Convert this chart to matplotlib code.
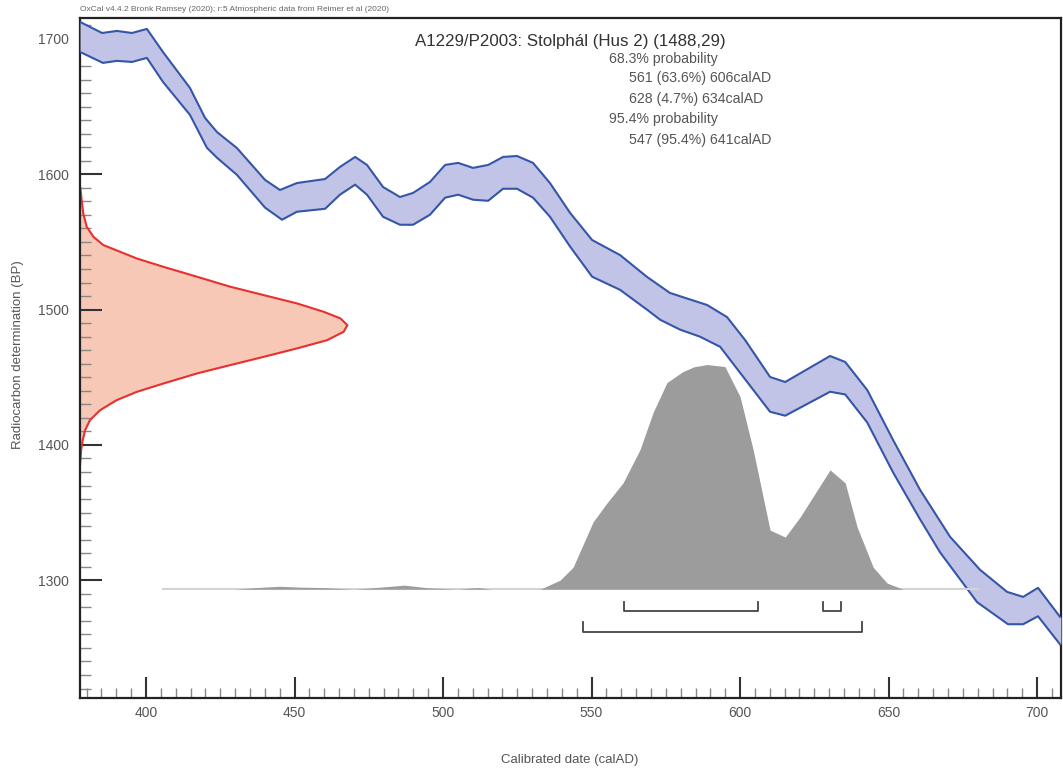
import numpy as np
import matplotlib
matplotlib.use('Agg')
import matplotlib.pyplot as plt

plt.rcParams['font.family'] = ['Liberation Sans', 'DejaVu Sans']

# calibration curve (IntCal20 band), upper and lower edges
upper_year = [377.8, 385.2, 390.2, 395.3, 400.3, 405.7, 414.8, 419.9, 423.9, 430.6,
              440.1, 445.1, 450.8, 460.3, 465.3, 470.4, 474.4, 479.8, 485.5, 489.9,
              495.6, 500.7, 505.1, 510.1, 515.2, 520.2, 524.9, 530.3, 536.0, 542.8,
              550.2, 559.6, 568.7, 576.4, 588.9, 595.6, 601.7, 610.1, 615.2, 630.3,
              635.4, 642.8, 651.5, 660.6, 670.7, 680.8, 689.9, 695.3, 700.3, 707.7]
upper_bp = [1712.6, 1704.4, 1705.9, 1704.4, 1707.4, 1690.4, 1663.8, 1641.6, 1631.2, 1619.4,
            1595.8, 1588.4, 1593.5, 1596.5, 1605.4, 1612.8, 1606.9, 1590.6, 1583.2, 1586.2,
            1594.3, 1606.9, 1608.4, 1604.7, 1606.9, 1612.8, 1613.5, 1608.4, 1593.5, 1571.4,
            1551.4, 1540.3, 1524.1, 1512.3, 1503.4, 1494.5, 1477.5, 1450.2, 1446.5, 1465.7,
            1461.3, 1440.6, 1403.7, 1366.8, 1332.1, 1307.7, 1291.4, 1287.7, 1294.4, 1273.0]
lower_year = [377.8, 385.5, 390.2, 395.3, 400.3, 405.7, 414.8, 420.5, 423.9, 430.6,
              440.1, 445.8, 450.8, 460.3, 465.3, 470.4, 474.4, 479.8, 485.5, 489.9,
              495.6, 500.7, 505.1, 510.1, 515.2, 520.2, 524.9, 530.3, 536.0, 542.8,
              550.2, 559.6, 568.7, 573.1, 579.8, 586.5, 593.3, 610.1, 615.2, 630.3,
              635.4, 642.8, 651.5, 660.6, 667.3, 679.8, 690.2, 695.3, 700.3, 707.7]
lower_bp = [1690.4, 1682.3, 1683.8, 1683.0, 1686.0, 1668.3, 1643.9, 1619.6, 1612.2, 1599.6,
            1575.3, 1566.4, 1572.3, 1574.5, 1584.9, 1592.3, 1584.9, 1568.6, 1562.7, 1562.7,
            1570.1, 1582.7, 1584.9, 1581.2, 1580.4, 1589.3, 1589.3, 1582.7, 1568.6, 1546.5,
            1524.3, 1514.6, 1499.9, 1492.5, 1485.2, 1480.0, 1472.5, 1424.5, 1421.6, 1439.3,
            1437.3, 1416.6, 1379.7, 1345.0, 1320.7, 1283.8, 1267.5, 1267.5, 1273.4, 1252.7]

# radiocarbon measurement 1488 +/- 29 BP, relative density
c14_bp = [1591, 1584.7, 1581.0, 1571.1, 1561.2, 1553.8, 1547.7, 1542.7, 1537.8, 1531.6,
          1524.3, 1516.9, 1510.7, 1504.6, 1498.4, 1493.5, 1488.5, 1483.6, 1477.4, 1471.3,
          1465.1, 1459.0, 1452.8, 1445.4, 1439.2, 1433.1, 1425.7, 1418.3, 1410.9, 1403.5,
          1396.1, 1385]
c14_dens = [0.0, 0.004, 0.006, 0.012, 0.025, 0.050, 0.087, 0.150, 0.212, 0.312,
            0.437, 0.562, 0.687, 0.811, 0.911, 0.974, 1.0, 0.986, 0.924, 0.811,
            0.687, 0.562, 0.437, 0.312, 0.212, 0.137, 0.075, 0.037, 0.019, 0.010,
            0.004, 0.0]

# calibrated probability, relative
cal_year = [405.7, 430, 437, 445, 452, 460, 470, 478, 487, 495, 505, 509, 512, 516, 525,
            532.7, 539.4, 543.8, 550.5, 555.2, 560.6, 566.3, 570.7, 575.4, 580.8, 584.5,
            588.9, 594.9, 600.0, 604.4, 610.1, 615.2, 620.2, 630.3, 635.4, 639.4, 644.8,
            649.5, 654.9, 680.0]
cal_prob = [0, 0, 0.007, 0.013, 0.009, 0.007, 0, 0.008, 0.018, 0.006, 0, 0.005, 0.007, 0, 0,
            0, 0.040, 0.098, 0.299, 0.384, 0.473, 0.621, 0.786, 0.920, 0.969, 0.99,
            1.0, 0.991, 0.857, 0.621, 0.263, 0.232, 0.321, 0.531, 0.473, 0.277, 0.098,
            0.027, 0, 0]

# highest posterior density ranges
hpd68 = [(561, 606), (628, 634)]
hpd95 = [(547, 641)]

title = 'A1229/P2003: Stolphál (Hus 2) (1488,29)'
summary = ['68.3% probability', '561 (63.6%) 606calAD', '628 (4.7%) 634calAD',
           '95.4% probability', '547 (95.4%) 641calAD']

xmin, xmax = 377.8, 708
ymin, ymax = 1213, 1715.5

fig = plt.figure(figsize=(10.63, 7.71), dpi=100)
ax = fig.add_axes([0.0753, 0.0947, 0.9227, 0.882])

# measurement distribution on y axis
dens_w = 90.0
c14_x = xmin + np.array(c14_dens) * dens_w
ax.fill_betweenx(c14_bp, xmin, c14_x, color='#f8c8b6', lw=0, zorder=1)
ax.plot(c14_x, c14_bp, color='#e8302e', lw=1.5, zorder=2)

# calibration curve band
grid = np.linspace(xmin, xmax, 600)
up = np.interp(grid, upper_year, upper_bp)
lo = np.interp(grid, lower_year, lower_bp)
ax.fill_between(grid, lo, up, color='#c1c4e6', lw=0, zorder=3)
ax.plot(upper_year, upper_bp, color='#3556a8', lw=1.5, zorder=4)
ax.plot(lower_year, lower_bp, color='#3556a8', lw=1.5, zorder=4)

# calibrated distribution
base = 1293.4
height = 166.0
ax.plot([cal_year[0], cal_year[-1]], [base, base], color='#d4d4d4', lw=1.5, zorder=5)
ax.fill_between(cal_year, base, base + np.array(cal_prob) * height,
                color='#9c9c9c', lw=0, zorder=6)

# ranges
def bracket(a, b, y, h):
    ax.plot([a, a, b, b], [y + h, y, y, y + h], color='#444444', lw=1.3, zorder=7)

for a, b in hpd68:
    bracket(a, b, 1277, 7)
for a, b in hpd95:
    bracket(a, b, 1261.5, 7.5)

ax.set_xlim(xmin, xmax)
ax.set_ylim(ymin, ymax)
ax.set_xticks(np.arange(400, 701, 50))
ax.set_xticks(np.arange(380, 708, 5), minor=True)
ax.set_yticks(np.arange(1300, 1701, 100))
ax.set_yticks(np.arange(1220, 1715, 10), minor=True)
ax.tick_params(which='both', direction='in', colors='#333333', labelcolor='#555555',
               labelsize=10)
ax.tick_params(axis='y', which='major', length=16, width=1.5, pad=8)
ax.tick_params(axis='y', which='minor', length=8, width=1, color='#888888')
ax.tick_params(axis='x', which='major', length=15, width=1.5, pad=6)
ax.tick_params(axis='x', which='minor', length=7, width=1, color='#888888')
for s in ax.spines.values():
    s.set_linewidth(1.6)
    s.set_color('#222222')

fig.text(0.536, 0.0143, 'Calibrated date (calAD)', fontsize=9.5, color='#555555',
         ha='center', va='center')
fig.text(0.017, 0.5396, 'Radiocarbon determination (BP)', fontsize=9.5, color='#555555',
         ha='center', va='center', rotation=90)

ax.text(0.3415, 0.9647, title, transform=ax.transAxes, fontsize=12.2, color='#333333',
        va='center', ha='left', zorder=10)
xs = [0.539, 0.5596, 0.5596, 0.539, 0.5596]
ys = [0.9397, 0.911, 0.8809, 0.8515, 0.8206]
for s, x, y in zip(summary, xs, ys):
    ax.text(x, y, s, transform=ax.transAxes, fontsize=10.2, color='#555555',
            va='center', ha='left', zorder=10)

fig.text(0.0753, 0.988, 'OxCal v4.4.2 Bronk Ramsey (2020); r:5 Atmospheric data from Reimer et al (2020)',
         fontsize=6, color='#666666', va='center', ha='left')

fig.savefig('out.png', dpi=100)
